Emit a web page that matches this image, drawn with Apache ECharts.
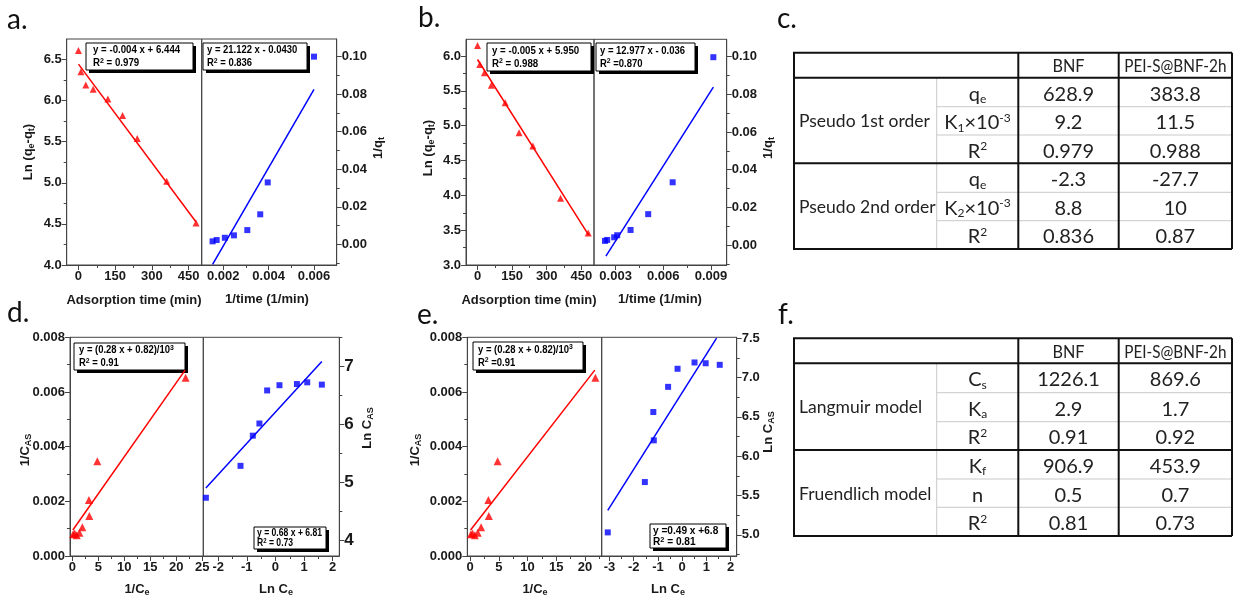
<!DOCTYPE html>
<html><head><meta charset="utf-8">
<script src="https://cdn.jsdelivr.net/npm/echarts@6/dist/echarts.min.js"></script>
<style>html,body{margin:0;padding:0;background:#fff}#c{width:1233px;height:602px}</style>
</head><body><div id="c"></div><script>
// ---------------- DATA ----------------
// panel a (BNF kinetics)
const aTime = [0, 10, 30, 60, 120, 180, 240, 360, 480];
const aLnQ = [6.61, 6.35, 6.19, 6.14, 6.02, 5.82, 5.54, 5.02, 4.51];
const aFit1 = [[0, 6.444], [480, 4.524]];
const aInvT = [0.00153, 0.00171, 0.00207, 0.00247, 0.00306, 0.00363, 0.00396, 0.0060];
const aInvQ = [0.0016, 0.0023, 0.0035, 0.0048, 0.0076, 0.0160, 0.0330, 0.1000];
const aFit2 = [[0.00153, -0.0107], [0.0060, 0.0826]];
// panel b (PEI-S@BNF-2h kinetics)
const bTime = [0, 10, 30, 60, 120, 180, 240, 360, 480];
const bLnQ = [6.15, 5.88, 5.76, 5.58, 5.33, 4.90, 4.71, 3.96, 3.46];
const bFit1 = [[0, 5.95], [482, 3.43]];
const bInvT = [0.00233, 0.00247, 0.00291, 0.0031, 0.00394, 0.00505, 0.00659, 0.00915];
const bInvQ = [0.0022, 0.0027, 0.0041, 0.0052, 0.0080, 0.0164, 0.0333, 0.0997];
const bFit2 = [[0.00239, -0.0059], [0.00915, 0.0838]];
// panel d (BNF isotherms)
const dInvCe = [0.15, 0.45, 0.85, 1.35, 1.92, 3.27, 3.2, 4.8, 21.8];
const dInvCas = [0.00080, 0.00082, 0.00076, 0.00085, 0.00105, 0.00146, 0.00205, 0.00347, 0.00652];
const dFit1 = [[0.1, 0.00095], [21.7, 0.0068]];
const dLnCe = [-2.43, -1.22, -0.79, -0.56, -0.29, 0.14, 0.75, 1.11, 1.62];
const dLnCas = [4.74, 5.29, 5.81, 6.02, 6.59, 6.68, 6.70, 6.73, 6.69];
const dFit2 = [[-2.43, 4.91], [1.62, 7.09]];
// panel e (PEI-S@BNF-2h isotherms)
const eInvCe = [0.15, 0.45, 0.85, 1.35, 1.92, 3.27, 3.2, 4.8, 21.8];
const eInvCas = [0.00080, 0.00082, 0.00076, 0.00085, 0.00105, 0.00146, 0.00205, 0.00347, 0.00652];
const eFit1 = [[0.1, 0.00095], [21.7, 0.0068]];
const eLnCe = [-3.07, -1.54, -1.19, -1.17, -0.58, -0.19, 0.51, 0.97, 1.55];
const eLnCas = [5.03, 5.67, 6.56, 6.20, 6.88, 7.11, 7.19, 7.18, 7.16];
const eFit2 = [[-3.07, 5.31], [1.42, 7.50]];

// tick values
const timeTicks = [0, 150, 300, 450];
const timeMinor = [75, 225, 375];
const aLnTicks = [4.0, 4.5, 5.0, 5.5, 6.0, 6.5];
const aLnMinor = [4.25, 4.75, 5.25, 5.75, 6.25];
const bLnTicks = [3.0, 3.5, 4.0, 4.5, 5.0, 5.5, 6.0];
const bLnMinor = [3.25, 3.75, 4.25, 4.75, 5.25, 5.75];
const invQTicks = [0, 0.02, 0.04, 0.06, 0.08, 0.10];
const invQMinor = [-0.01, 0.01, 0.03, 0.05, 0.07, 0.09];
const aInvTTicks = [0.002, 0.004, 0.006];
const aInvTMinor = [0.003, 0.005];
const bInvTTicks = [0.003, 0.006, 0.009];
const bInvTMinor = [0.0045, 0.0075];
const casTicks = [0, 0.002, 0.004, 0.006, 0.008];
const casMinor = [0.001, 0.003, 0.005, 0.007];
const dInvCeTicks = [0, 5, 10, 15, 20, 25];
const eInvCeTicks = [0, 5, 10, 15, 20];
const invCeMinor = [2.5, 7.5, 12.5, 17.5, 22.5];
const dLnCeTicks = [-2, -1, 0, 1, 2];
const dLnCeMinor = [-1.5, -0.5, 0.5, 1.5];
const eLnCeTicks = [-3, -2, -1, 0, 1, 2];
const eLnCeMinor = [-2.5, -1.5, -0.5, 0.5, 1.5];
const dLnCasTicks = [4, 5, 6, 7];
const dLnCasMinor = [4.5, 5.5, 6.5, 7.5];
const eLnCasTicks = [5.0, 5.5, 6.0, 6.5, 7.0, 7.5];
const eLnCasMinor = [4.75, 5.25, 5.75, 6.25, 6.75, 7.25];

// equation boxes
const aEq1 = ['y = -0.004 x + 6.444', 'R{sup|2} = 0.979'];
const aEq2 = ['y = 21.122 x - 0.0430', 'R{sup|2} = 0.836'];
const bEq1 = ['y = -0.005 x + 5.950', 'R{sup|2} = 0.988'];
const bEq2 = ['y = 12.977 x - 0.036', 'R{sup|2} =0.870'];
const dEq1 = ['y = (0.28 x + 0.82)/10{sup|3}', 'R{sup|2} = 0.91'];
const dEq2 = ['y = 0.68 x + 6.81', 'R{sup|2} = 0.73'];
const eEq1 = ['y = (0.28 x + 0.82)/10{sup|3}', 'R{sup|2} =0.91'];
const eEq2 = ['y =0.49 x +6.8', 'R{sup|2} = 0.81'];

// tables
const tableHeader = ['BNF', 'PEI-S@BNF-2h'];
const cGroups = ['Pseudo 1st order', 'Pseudo 2nd order'];
const cParams = ['q{sub|e}', 'K{sub|1}×10{sup|-3}', 'R{sup|2}', 'q{sub|e}', 'K{sub|2}×10{sup|-3}', 'R{sup|2}'];
const cBNF = ['628.9', '9.2', '0.979', '-2.3', '8.8', '0.836'];
const cPEI = ['383.8', '11.5', '0.988', '-27.7', '10', '0.87'];
const fGroups = ['Langmuir model', 'Fruendlich model'];
const fParams = ['C{sub|s}', 'K{sub|a}', 'R{sup|2}', 'K{sub|f}', 'n', 'R{sup|2}'];
const fBNF = ['1226.1', '2.9', '0.91', '906.9', '0.5', '0.81'];
const fPEI = ['869.6', '1.7', '0.92', '453.9', '0.7', '0.73'];

// ---------------- LAYOUT / STYLE ----------------
const FF = "'Liberation Sans', Arial, sans-serif";
const TF = "Lato, 'Open Sans', sans-serif";
const AX = '#444';
const TXT = '#1a1a1a';
const RED = '#ff0000', BLUE = '#0000ff';

const grids = [
  {left: 66.7, top: 39, width: 135, height: 226},
  {left: 201.7, top: 39, width: 135, height: 226},
  {left: 466, top: 39.3, width: 128, height: 225.7},
  {left: 594, top: 39.3, width: 132.7, height: 225.7},
  {left: 70, top: 337.3, width: 133.3, height: 218.7},
  {left: 203.3, top: 337.3, width: 136, height: 218.7},
  {left: 467.3, top: 337.3, width: 134.4, height: 218.7},
  {left: 601.7, top: 337.3, width: 135, height: 218.7}
].map(g => Object.assign(g, {show: true, borderColor: AX, borderWidth: 1, backgroundColor: 'transparent'}));

const xAxes = [], yAxes = [], series = [];

function fmt(dec) { return v => Number(v).toFixed(dec); }

function axisPair(list, gi, pos, min, max, major, minor, dec, fs) {
  const idx = list.length;
  list.push({
    gridIndex: gi, type: 'value', position: pos, min: min, max: max,
    axisLine: {show: true, onZero: false, lineStyle: {color: AX, width: 1}},
    axisTick: {show: true, inside: false, length: 5, customValues: major, lineStyle: {color: AX, width: 1}},
    axisLabel: {show: true, customValues: major, formatter: fmt(dec), color: TXT,
      fontFamily: FF, fontWeight: 'bold', fontSize: fs || 13, margin: 5},
    splitLine: {show: false}
  });
  list.push({
    gridIndex: gi, type: 'value', position: pos, min: min, max: max,
    axisLine: {show: false, onZero: false},
    axisTick: {show: true, inside: false, length: 3, customValues: minor, lineStyle: {color: AX, width: 1}},
    axisLabel: {show: false}, splitLine: {show: false}
  });
  return idx;
}

function zip(xs, ys) { return xs.map((x, i) => [x, ys[i]]); }

function panel(gi, xr, xMaj, xMin, xDec, yPos, yr, yMaj, yMin, yDec, yFs, pts, symbol, color, size, fit) {
  const xi = axisPair(xAxes, gi, 'bottom', xr[0], xr[1], xMaj, xMin, xDec);
  const yi = axisPair(yAxes, gi, yPos, yr[0], yr[1], yMaj, yMin, yDec, yFs);
  series.push({type: 'line', xAxisIndex: xi, yAxisIndex: yi, data: fit, symbol: 'none', silent: true,
    lineStyle: {color: color, width: 1.5}, clip: true, z: 2});
  series.push({type: 'scatter', xAxisIndex: xi, yAxisIndex: yi, data: pts, symbol: symbol, symbolSize: size,
    itemStyle: {color: color}, silent: true, clip: false, z: 3});
}

panel(0, [-48, 503], timeTicks, timeMinor, 0, 'left', [4.0, 6.75], aLnTicks, aLnMinor, 1, 13,
  zip(aTime, aLnQ), 'triangle', RED, 7, aFit1);
panel(1, [0.00105, 0.0070], aInvTTicks, aInvTMinor, 3, 'right', [-0.011, 0.1094], invQTicks, invQMinor, 2, 13,
  zip(aInvT, aInvQ), 'rect', BLUE, 6, aFit2);
panel(2, [-50, 505], timeTicks, timeMinor, 0, 'left', [3.0, 6.24], bLnTicks, bLnMinor, 1, 13,
  zip(bTime, bLnQ), 'triangle', RED, 7, bFit1);
panel(3, [0.00164, 0.00999], bInvTTicks, bInvTMinor, 3, 'right', [-0.0106, 0.1092], invQTicks, invQMinor, 2, 13,
  zip(bInvT, bInvQ), 'rect', BLUE, 6, bFit2);
panel(4, [-0.45, 25.2], dInvCeTicks, invCeMinor, 0, 'left', [0, 0.008], casTicks, casMinor, 3, 13,
  zip(dInvCe, dInvCas), 'triangle', RED, 8, dFit1);
panel(5, [-2.52, 2.23], dLnCeTicks, dLnCeMinor, 0, 'right', [3.736, 7.506], dLnCasTicks, dLnCasMinor, 0, 17,
  zip(dLnCe, dLnCas), 'rect', BLUE, 6, dFit2);
panel(6, [-0.47, 22.9], eInvCeTicks, invCeMinor, 0, 'left', [0, 0.008], casTicks, casMinor, 3, 13,
  zip(eInvCe, eInvCas), 'triangle', RED, 8, eFit1);
panel(7, [-3.32, 2.25], eLnCeTicks, eLnCeMinor, 0, 'right', [4.73, 7.51], eLnCasTicks, eLnCasMinor, 1, 13,
  zip(eLnCe, eLnCas), 'rect', BLUE, 6, eFit2);

// ---------------- GRAPHICS ----------------
const graphic = [];
const richAxis = {
  sub: {fontSize: 9, fontWeight: 'bold', fontFamily: FF, color: TXT, verticalAlign: 'bottom', lineHeight: 10},
  sup: {fontSize: 9, fontWeight: 'bold', fontFamily: FF, color: TXT, verticalAlign: 'top', lineHeight: 10}
};
function label(x, y, text, opts) {
  opts = opts || {};
  graphic.push({type: 'text', x: x, y: y, rotation: opts.rot || 0, scaleX: opts.sx || 1, silent: true,
    style: {text: text, fill: opts.color || TXT, fontFamily: opts.ff || FF, fontWeight: opts.fw || 'bold',
      fontSize: opts.fs || 13, align: opts.align || 'center', verticalAlign: opts.va || 'middle',
      lineHeight: opts.lh, rich: opts.rich || richAxis}});
}
const R90 = Math.PI / 2;

// axis titles
label(134, 300, 'Adsorption time (min)');
label(267, 299, '1/time (1/min)');
label(529, 300, 'Adsorption time (min)');
label(660, 299, '1/time (1/min)');
label(28, 152, 'Ln (q{sub|e}-q{sub|t})', {rot: R90, lh: 16});
label(428, 148, 'Ln (q{sub|e}-q{sub|t})', {rot: R90, lh: 16});
label(378, 148, '1/q{sub|t}', {rot: R90, lh: 16});
label(768, 148, '1/q{sub|t}', {rot: R90, lh: 16});
label(137, 589, '1/C{sub|e}', {lh: 16});
label(276, 589, 'Ln C{sub|e}', {lh: 16});
label(535, 589, '1/C{sub|e}', {lh: 16});
label(668, 589, 'Ln C{sub|e}', {lh: 16});
label(25, 450, '1/C{sub|AS}', {rot: R90, lh: 16});
label(415, 450, '1/C{sub|AS}', {rot: R90, lh: 16});
label(367, 428, 'Ln C{sub|AS}', {rot: R90, lh: 16});
label(768, 432, 'Ln C{sub|AS}', {rot: R90, lh: 16});

// panel letters
const letters = [['a.', 7, 20], ['b.', 418, 18], ['c.', 777, 19], ['d.', 7, 313], ['e.', 417, 315], ['f.', 778, 315]];
letters.forEach(l => label(l[1], l[2], l[0], {ff: TF, fw: 'normal', fs: 28, align: 'left', color: '#111'}));

// equation boxes
function eqBox(x, y, w, h, lines, fs, sx, pad) {
  const richEq = {sup: {fontSize: fs - 3, fontWeight: 'bold', fontFamily: FF, color: '#000', verticalAlign: 'top', lineHeight: fs - 2}};
  graphic.push({type: 'group', x: x, y: y, silent: true, children: [
    {type: 'rect', shape: {x: 3, y: 3, width: w, height: h}, style: {fill: '#000'}},
    {type: 'rect', shape: {x: 0, y: 0, width: w, height: h}, style: {fill: '#fff', stroke: '#000', lineWidth: 1}},
    {type: 'text', x: pad, y: h / 2, scaleX: sx, style: {text: lines.join('\n'), fill: '#000', fontFamily: FF, fontWeight: 'bold',
      fontSize: fs, lineHeight: h / 2 - 1, align: 'left', verticalAlign: 'middle', rich: richEq}}
  ]});
}
eqBox(86, 43, 107, 27, aEq1, 11, 0.88, 7);
eqBox(203, 43, 104, 27, aEq2, 11, 0.86, 4);
eqBox(487, 43, 104, 28, bEq1, 11, 0.88, 5);
eqBox(596, 43, 99, 28, bEq2, 11, 0.86, 4);
eqBox(74, 343, 111, 27, dEq1, 11, 0.86, 5);
eqBox(254, 527, 72, 22, dEq2, 10, 0.86, 3);
eqBox(650, 524, 76, 24, eEq2, 11, 0.92, 3);
eqBox(473, 342, 110, 28, eEq1, 11, 0.86, 5);

// tables
const richTab = {
  sub: {fontSize: 12, fontFamily: TF, color: '#222', verticalAlign: 'bottom', lineHeight: 22},
  sup: {fontSize: 12, fontFamily: TF, color: '#222', verticalAlign: 'top', lineHeight: 22}
};
function hline(x1, y1, x2, y2, stroke, lw) {
  graphic.push({type: 'line', silent: true, shape: {x1: x1, y1: y1, x2: x2, y2: y2}, style: {stroke: stroke, lineWidth: lw}});
}
function table(R, C, groups, params, v1, v2) {
  const thin = '#c9c9c9';
  [2, 3, 5, 6].forEach(i => hline(C[1], R[i], C[4], R[i], thin, 1));
  hline(C[1], R[1], C[1], R[7], thin, 1);
  [0, 1, 4, 7].forEach(i => hline(C[0] - 1, R[i], C[4], R[i], '#111', 2));
  [0, 2, 3, 4].forEach(j => hline(C[j], R[0], C[j], R[7], '#111', 2));
  const base = {ff: TF, fw: 'normal', color: '#222', rich: richTab, lh: 22};
  const hOpt = Object.assign({fs: 18}, base);
  const gOpt = Object.assign({fs: 17.5, align: 'left'}, base);
  const vOpt = Object.assign({fs: 20}, base);
  label((C[2] + C[3]) / 2, (R[0] + R[1]) / 2 + 1, tableHeader[0], Object.assign({sx: 0.9}, hOpt));
  label((C[3] + C[4]) / 2, (R[0] + R[1]) / 2 + 1, tableHeader[1], Object.assign({sx: 0.85}, hOpt));
  label(C[0] + 5, (R[1] + R[4]) / 2 + 1, groups[0], gOpt);
  label(C[0] + 5, (R[4] + R[7]) / 2 + 1, groups[1], gOpt);
  for (let i = 0; i < 6; i++) {
    const r = i + 1 + (i >= 3 ? 0 : 0);
    const yc = (R[r] + R[r + 1]) / 2 + 2;
    label((C[1] + C[2]) / 2, yc, params[i], vOpt);
    label((C[2] + C[3]) / 2, yc, v1[i], vOpt);
    label((C[3] + C[4]) / 2, yc, v2[i], vOpt);
  }
}
table([52.7, 77.7, 106.7, 135, 163.3, 192.3, 220.7, 249], [794, 936.7, 1018.3, 1118.7, 1232], cGroups, cParams, cBNF, cPEI);
table([338.3, 363.3, 392.7, 421.7, 450, 479, 507.3, 536], [794, 936.7, 1018.3, 1118.7, 1232], fGroups, fParams, fBNF, fPEI);

const chart = echarts.init(document.getElementById('c'));
chart.setOption({
  animation: false,
  backgroundColor: '#fff',
  grid: grids,
  xAxis: xAxes,
  yAxis: yAxes,
  series: series,
  graphic: {elements: graphic}
});
</script></body></html>
